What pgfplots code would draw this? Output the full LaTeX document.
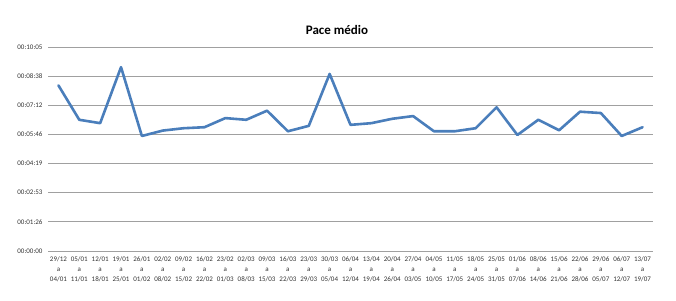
\documentclass[border=0pt]{standalone}
\usepackage{pgfplots}
\pgfplotsset{compat=1.18}
\usepackage{fontspec}
\setmainfont{Carlito}
\definecolor{linecol}{HTML}{4A7EBB}
\definecolor{gridcol}{HTML}{A0A0A0}
\begin{document}
\begin{tikzpicture}
\useasboundingbox (0,0) rectangle (676pt,300pt);
\begin{axis}[
  at={(48pt,49pt)}, anchor=south west,
  scale only axis, width=605pt, height=204pt,
  xmin=-0.5, xmax=28.5, ymin=0, ymax=604.8,
  axis line style={draw=none},
  axis x line*=bottom,
  x axis line style={draw=gridcol, line width=0.8pt},
  ytick={0,86.4,172.8,259.2,345.6,432,518.4,604.8},
  yticklabels={00:00:00,00:01:26,00:02:53,00:04:19,00:05:46,00:07:12,00:08:38,00:10:05},
  xtick={0,...,28},
  xticklabels={{29/12\\a\\04/01},{05/01\\a\\11/01},{12/01\\a\\18/01},{19/01\\a\\25/01},{26/01\\a\\01/02},{02/02\\a\\08/02},{09/02\\a\\15/02},{16/02\\a\\22/02},{23/02\\a\\01/03},{02/03\\a\\08/03},{09/03\\a\\15/03},{16/03\\a\\22/03},{23/03\\a\\29/03},{30/03\\a\\05/04},{06/04\\a\\12/04},{13/04\\a\\19/04},{20/04\\a\\26/04},{27/04\\a\\03/05},{04/05\\a\\10/05},{11/05\\a\\17/05},{18/05\\a\\24/05},{25/05\\a\\31/05},{01/06\\a\\07/06},{08/06\\a\\14/06},{15/06\\a\\21/06},{22/06\\a\\28/06},{29/06\\a\\05/07},{06/07\\a\\12/07},{13/07\\a\\19/07}},
  xticklabel style={align=center, font=\fontsize{7}{10}\selectfont, text=black!80, yshift=-2pt},
  yticklabel style={font=\fontsize{7}{8}\selectfont, text=black!80, xshift=-2pt},
  major tick length=0pt,
  ymajorgrids, grid style={draw=gridcol, line width=0.8pt},
  clip=false,
]
\addplot[color=linecol, line width=2.6pt, line join=round, line cap=round] coordinates {
(0,491) (1,389) (2,379) (3,545) (4,341) (5,357) (6,364) (7,367) (8,394) (9,389)
(10,416) (11,355) (12,371) (13,525) (14,374) (15,379) (16,392) (17,400) (18,355) (19,355)
(20,364) (21,426) (22,344) (23,389) (24,358) (25,413) (26,409) (27,341) (28,367)
};
\end{axis}
\node[font=\bfseries\fontsize{13}{15}\selectfont] at (337pt,270pt) {Pace médio};
\end{tikzpicture}
\end{document}
